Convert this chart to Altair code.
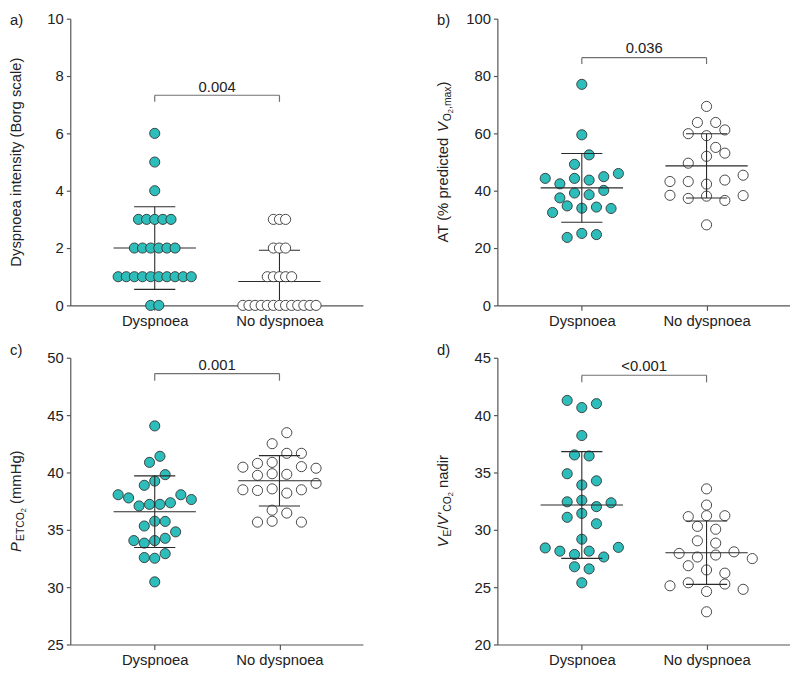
import altair as alt
import numpy as np
import pandas as pd

GROUPS = ["Dyspnoea", "No dyspnoea"]
TEAL = "#2DBDBB"
FONT = "Liberation Sans"

# ---- data ----
borg_dys = [6, 5, 4, 3, 3, 3, 3, 3, 2, 2, 2, 2, 2, 2,
            1, 1, 1, 1, 1, 1, 1, 1, 1, 1, 0, 0]
borg_no = [3, 3, 3, 2, 2, 2, 1, 1, 1, 1, 1,
           0, 0, 0, 0, 0, 0, 0, 0, 0, 0, 0, 0, 0]

at_dys = [44.3, 37.5, 42.4, 32.4, 23.7, 49.2, 44.3, 39.2, 34.7, 77.1, 59.5,
          25.1, 52.5, 43.7, 38.6, 33.9, 24.7, 44.9, 40.1, 34.3, 46.0, 33.8]
at_no = [63.8, 43.2, 38.4, 59.9, 55.1, 49.6, 43.2, 37.3, 69.4, 63.8, 59.2,
         52.0, 42.3, 38.1, 28.1, 53.1, 43.7, 36.6, 61.2, 45.4, 38.3]

pet_dys = [38.06, 37.78, 35.33, 38.88, 37.08, 35.75, 34.06, 40.88, 39.25,
           37.22, 33.84, 32.58, 44.06, 30.46, 41.41, 39.81, 37.22, 35.73,
           34.06, 32.52, 37.36, 34.26, 32.92, 38.06, 34.82, 37.64]
pet_no = [40.46, 40.79, 39.75, 38.49, 35.67, 42.51, 39.89, 38.43, 36.71,
          43.47, 40.88, 38.57, 35.75, 39.84, 38.2, 36.46, 41.67, 40.51,
          38.49, 35.67, 41.67, 40.37, 39.05]

ve_dys = [32.44, 28.42, 41.28, 34.89, 31.09, 29.18, 28.14, 40.66, 36.53,
          33.91, 32.58, 31.43, 27.85, 26.78, 38.22, 25.38, 36.44, 34.27,
          28.14, 26.59, 41.0, 32.02, 30.53, 27.63, 32.36, 28.47]
ve_no = [31.15, 29.04, 27.94, 26.87, 25.12, 32.16, 30.3, 27.63, 26.5, 25.38,
         33.57, 30.05, 28.84, 27.8, 24.62, 22.85, 31.23, 28.08, 25.27,
         31.23, 27.49, 26.22, 24.81]

P_VALUES = ["0.004", "0.036", "0.001", "<0.001"]

# ---- geometry ----
W, H = 296, 290
XDOM = [-0.677, 1.669]
XPX = W / (XDOM[1] - XDOM[0])

# Arial/Liberation Sans advance widths (per 1000 em)
AW = {' ': 278, '%': 889, "'": 191, '(': 333, ')': 333, ',': 278, '.': 278,
      '/': 278, '<': 584}
for c in "0123456789":
    AW[c] = 556
AW.update(dict(A=667, B=667, C=722, D=722, E=667, H=722, M=833, O=778, P=667,
               T=611, V=667))
AW.update(dict(a=556, b=556, c=500, d=556, e=556, f=278, g=556, h=556, i=222,
               k=500, l=222, m=833, n=556, o=556, p=556, r=333, s=500, t=278,
               u=556, x=500, y=500))


def tw(s, fs):
    return sum(AW.get(ch, 556) for ch in s) * fs / 1000.0


def swarm(values, ypx, row_px=11.5, spread=74.0, dmin=10.5):
    vals = np.asarray(values, float)
    order = sorted(range(len(vals)), key=lambda i: (vals[i], i))
    rows = []
    for i in order:
        if rows and (vals[i] - vals[rows[-1][0]]) * ypx <= row_px:
            rows[-1].append(i)
        else:
            rows.append([i])
    nmax = max(len(r) for r in rows)
    s = min(20.0, spread / (nmax - 1)) if nmax > 1 else 0.0
    off = np.zeros(len(vals))
    placed = []
    for r in rows:
        r = sorted(r)
        n = len(r)
        base = [(j - (n - 1) / 2.0) * s for j in range(n)]
        chosen = 0.0
        for sh in [0.0, s / 2, -s / 2, s, -s]:
            ok = True
            for j, i in enumerate(r):
                x = base[j] + sh
                y = vals[i] * ypx
                for (px, py) in placed:
                    if (x - px) ** 2 + (y - py) ** 2 < dmin ** 2:
                        ok = False
                        break
                if not ok:
                    break
            if ok:
                chosen = sh
                break
        for j, i in enumerate(r):
            off[i] = base[j] + chosen
            placed.append((off[i], vals[i] * ypx))
    return off


def panel(data, domain, ticks, title, bracket, pval, letter, label_y, points_on_top):
    ypx = H / (domain[1] - domain[0])
    rows = []
    for gi, vals in enumerate(data):
        off = swarm(vals, ypx)
        for v, o in zip(vals, off):
            rows.append({"x": gi + o / XPX, "y": v, "grp": GROUPS[gi]})
    pts = pd.DataFrame(rows)

    segs = []
    for gi, vals in enumerate(data):
        m = float(np.mean(vals))
        sd = float(np.std(vals, ddof=1))
        segs += [dict(x=gi - 0.33, x2=gi + 0.33, y=m, y2=m),
                 dict(x=gi, x2=gi, y=m - sd, y2=m + sd),
                 dict(x=gi - 0.165, x2=gi + 0.165, y=m + sd, y2=m + sd),
                 dict(x=gi - 0.165, x2=gi + 0.165, y=m - sd, y2=m - sd)]
    segdf = pd.DataFrame(segs)

    xs = alt.Scale(domain=XDOM, nice=False, zero=False)
    ys = alt.Scale(domain=domain, nice=False, zero=False)
    expr = "datum.value == 0 ? '%s' : '%s'" % (GROUPS[0], GROUPS[1])
    xaxis = alt.Axis(values=[0, 1], labelExpr=expr, title=None, grid=False,
                     tickSize=5, labelPadding=3, labelFlush=False)
    yaxis = alt.Axis(values=ticks, title=None, grid=False, tickSize=4,
                     labelPadding=3)
    X = alt.X("x:Q", scale=xs, axis=xaxis)
    Y = alt.Y("y:Q", scale=ys, axis=yaxis)

    points = alt.Chart(pts).mark_point(
        shape="circle", filled=True, size=105, stroke="#333333",
        strokeWidth=0.9, opacity=1
    ).encode(
        x=X, y=Y,
        fill=alt.Fill("grp:N", scale=alt.Scale(domain=GROUPS, range=[TEAL, "white"]),
                      legend=None)
    )
    lines = alt.Chart(segdf).mark_rule(color="#2a2a2a", strokeWidth=1.1, clip=True).encode(
        x=X, x2="x2:Q", y=Y, y2="y2:Q")

    yb, yt, ytext = bracket
    bdf = pd.DataFrame([dict(x=0, x2=1, y=yb, y2=yb),
                        dict(x=0, x2=0, y=yb, y2=yt),
                        dict(x=1, x2=1, y=yb, y2=yt)])
    br = alt.Chart(bdf).mark_rule(color="#707070", strokeWidth=1.2).encode(
        x=X, x2="x2:Q", y=Y, y2="y2:Q")
    ptxt = alt.Chart(pd.DataFrame([dict(x=0.5, y=ytext, t=pval)])).mark_text(
        font=FONT, fontSize=15, color="#222222", baseline="middle"
    ).encode(x=X, y=Y, text="t:N")

    # y-axis title built from styled pieces (italic symbols, subscripts)
    total = 0.0
    for (txt, style, fs, sh) in title:
        total += tw(txt, fs) + (1.0 if style == "italic" else 0.0)
    ystart = H / 2.0 + total / 2.0
    cum = 0.0
    tlayers = []
    for (txt, style, fs, sh) in title:
        lead = tw(txt[:len(txt) - len(txt.lstrip())], fs)
        t = txt.strip()
        tlayers.append(
            alt.Chart(pd.DataFrame({"t": [t]})).mark_text(
                angle=270, align="left", baseline="alphabetic", font=FONT,
                fontSize=fs, fontStyle=style, color="#222222"
            ).encode(x=alt.value(-50 + sh), y=alt.value(ystart - cum - lead), text="t:N")
        )
        cum += tw(txt, fs) + (1.0 if style == "italic" else 0.0)

    lab = alt.Chart(pd.DataFrame({"t": [letter]})).mark_text(
        align="left", baseline="middle", font=FONT, fontSize=15, color="#222222"
    ).encode(x=alt.value(-61), y=alt.value(label_y), text="t:N")

    if points_on_top:
        layers = [lines, br, ptxt, points]
    else:
        layers = [points, lines, br, ptxt]
    return alt.layer(*layers, *tlayers, lab).properties(width=W, height=H)


title_a = [("Dyspnoea intensity (Borg scale)", "normal", 15, 0)]
title_b = [("AT (% predicted ", "normal", 15, 0), ("V", "italic", 15, 0),
           ("O", "normal", 10.5, 3), ("2", "normal", 7.5, 5.5),
           (",max", "normal", 10.5, 3), (")", "normal", 15, 0)]
title_c = [("P", "italic", 15, 0), ("ETCO", "normal", 10.5, 3),
           ("2", "normal", 7.5, 5.5), (" (mmHg)", "normal", 15, 0)]
title_d = [("V", "italic", 15, 0), ("E", "normal", 10.5, 3), ("/", "normal", 15, 0),
           ("V'", "italic", 15, 0), ("CO", "normal", 10.5, 3),
           ("2", "normal", 7.5, 5.5), (" nadir", "normal", 15, 0)]

pa = panel([borg_dys, borg_no], [0, 10], [0, 2, 4, 6, 8, 10], title_a,
           (7.33, 7.1, 7.63), P_VALUES[0], "a)", 1, True)
pb = panel([at_dys, at_no], [0, 100], [0, 20, 40, 60, 80, 100], title_b,
           (86.4, 84.2, 89.7), P_VALUES[1], "b)", 1, False)
pc = panel([pet_dys, pet_no], [25, 50], [25, 30, 35, 40, 45, 50], title_c,
           (48.62, 48.0, 49.38), P_VALUES[2], "c)", -8, False)
pd_ = panel([ve_dys, ve_no], [20, 45], [20, 25, 30, 35, 40, 45], title_d,
            (43.48, 42.86, 44.32), P_VALUES[3], "d)", -8, False)

chart = alt.vconcat(
    alt.hconcat(pa, pb, spacing=74),
    alt.hconcat(pc, pd_, spacing=74),
    spacing=15
).properties(padding=0).configure_view(stroke=None).configure_axis(
    labelFont=FONT, labelFontSize=15, labelColor="#222222",
    domainColor="#555555", tickColor="#555555", domainWidth=1.2, tickWidth=1.2,
    grid=False
)

chart.save("out.html", embed_options={"renderer": "svg", "actions": False})
